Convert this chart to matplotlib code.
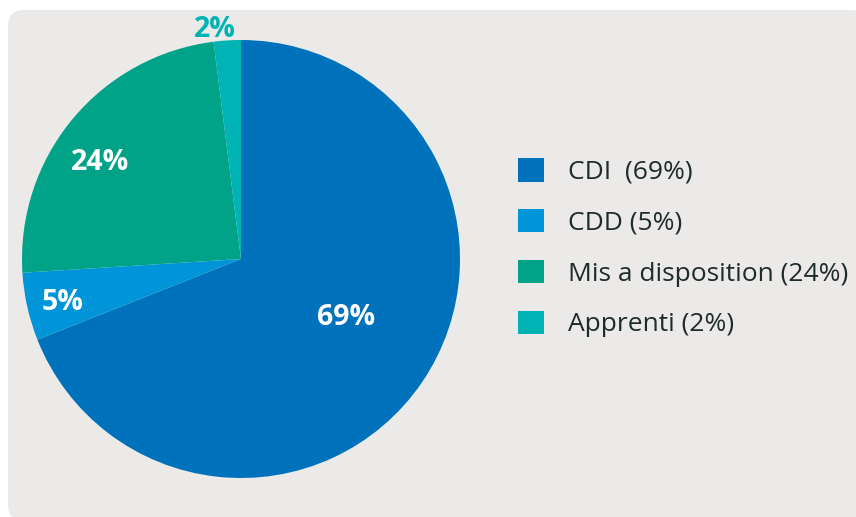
import matplotlib
matplotlib.use("Agg")
import matplotlib.pyplot as plt
import numpy as np
from matplotlib.patches import FancyBboxPatch
from matplotlib.transforms import IdentityTransform

# Contract types, share of headcount (%)
categories = ["CDI", "CDD", "Mis a disposition", "Apprenti"]
shares = [69, 5, 24, 2]
legend_labels = ["CDI  (69%)", "CDD (5%)", "Mis a disposition (24%)", "Apprenti (2%)"]

COLORS = ["#0072BB", "#0095D8", "#00A388", "#00B4B6"]
BG = "#ECEAE8"
TEXT = "#1E2B2B"

plt.rcParams["font.family"] = ["Open Sans", "DejaVu Sans"]

W, H = 856, 517
fig = plt.figure(figsize=(W / 100, H / 100), dpi=100, facecolor="white")

# rounded grey panel behind everything (pixel units, origin bottom-left)
panel = FancyBboxPatch((8, -4), 858, H - 10 + 4,
                       boxstyle="round,pad=0,rounding_size=16",
                       transform=IdentityTransform(), facecolor=BG,
                       edgecolor="none", zorder=-1)
fig.patches.append(panel)

# pie axes: centre (241, 259) px, radius 219 px
r = 219
ax = fig.add_axes([(241 - r) / W, (H - 259 - r) / H, 2 * r / W, 2 * r / H])
ax.set_facecolor("none")
ax.axis("off")

wedges, _ = ax.pie(shares, colors=COLORS, startangle=90, counterclock=False,
                   radius=1.0, wedgeprops=dict(linewidth=0))
ax.set_xlim(-1, 1)
ax.set_ylim(-1, 1)
ax.set_aspect("equal")

# percentage labels, placed along each wedge's mid-angle
label_dist = [0.55, 0.84, 0.78, 1.055]
angle_shift = [5, 1, 5, 3]
label_colors = ["white", "white", "white", COLORS[3]]
for w, v, d, s, c in zip(wedges, shares, label_dist, angle_shift, label_colors):
    mid = np.deg2rad((w.theta1 + w.theta2) / 2 + s)
    ax.text(d * np.cos(mid), d * np.sin(mid), f"{v}%", color=c,
            fontsize=20.5, fontweight="bold", ha="center", va="center",
            clip_on=False)

leg = fig.legend(wedges, legend_labels, loc="upper left",
                 bbox_to_anchor=(518 / W, 1 - 158 / H),
                 frameon=False, fontsize=19, labelcolor=TEXT,
                 handlelength=1.0, handleheight=1.0,
                 handletextpad=0.9, labelspacing=0.91,
                 borderpad=0, borderaxespad=0)

fig.savefig("out.png", dpi=100, facecolor="white")
